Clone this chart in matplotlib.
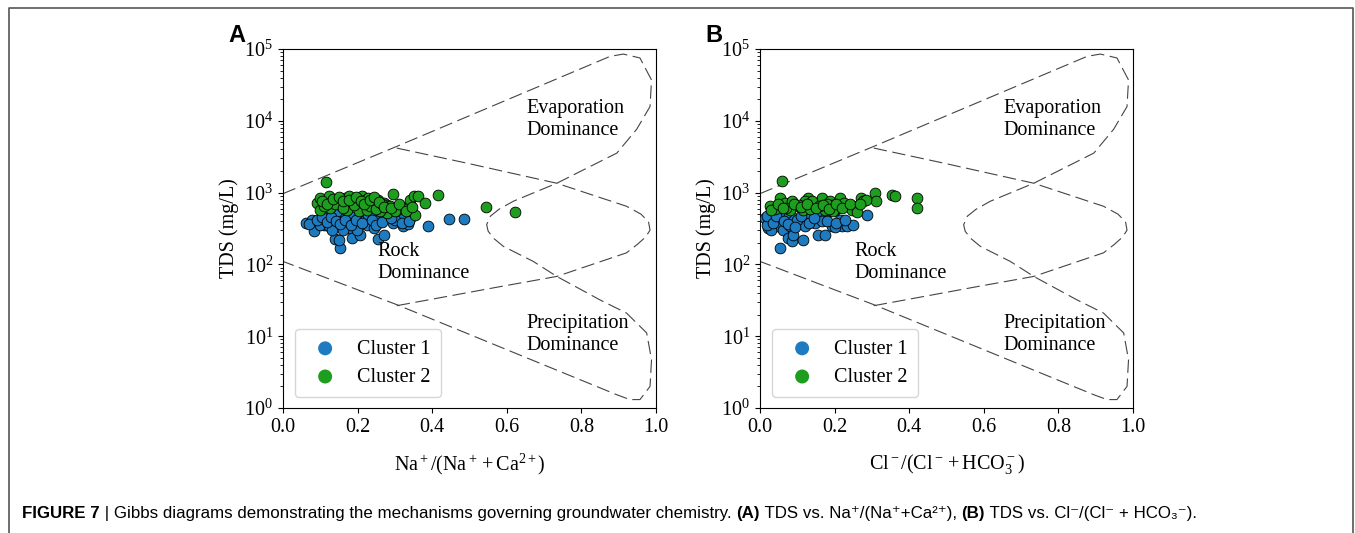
import matplotlib
matplotlib.use("Agg")
import matplotlib.pyplot as plt

plt.rcParams['font.family'] = ['Liberation Serif', 'DejaVu Serif']
plt.rcParams['mathtext.fontset'] = 'custom'
plt.rcParams['mathtext.rm'] = 'Liberation Serif'
plt.rcParams['mathtext.it'] = 'Liberation Serif:italic'
plt.rcParams['mathtext.bf'] = 'Liberation Serif:bold'

# Gibbs boundary curves (x ratio, TDS mg/L)
outer_x = [0.0, 0.305, 0.877, 0.9125, 0.957, 0.988, 0.984, 0.948, 0.895, 0.734,
           0.618, 0.580, 0.556, 0.546, 0.550, 0.565, 0.591, 0.671, 0.734, 0.85,
           0.921, 0.975, 0.988, 0.984, 0.957, 0.93, 0.895, 0.305, 0.0]
outer_y = [967, 4400, 79000, 85000, 75000, 37000, 15800, 7600, 3550, 1350,
           760, 590, 470, 357, 290, 230, 178, 110, 68, 32,
           21, 11.1, 4.7, 2.0, 1.31, 1.31, 1.53, 27.5, 110]
inner_x = [0.305, 0.493, 0.734, 0.921, 0.960, 0.980, 0.984, 0.972, 0.950, 0.921,
           0.734, 0.582, 0.305]
inner_y = [4170, 2570, 1350, 645, 500, 390, 300, 240, 190, 145,
           68, 49, 26.6]

# Panel A: TDS vs Na+/(Na+ + Ca2+)
a_c1_x = [0.062, 0.078, 0.087, 0.082, 0.095, 0.109, 0.122, 0.136, 0.149, 0.145,
          0.158, 0.167, 0.180, 0.176, 0.189, 0.203, 0.207, 0.220, 0.229, 0.234,
          0.243, 0.256, 0.270, 0.283, 0.296, 0.310, 0.323, 0.341, 0.323, 0.388,
          0.445, 0.484, 0.140, 0.154, 0.149, 0.185, 0.207, 0.256, 0.270, 0.100,
          0.122, 0.131, 0.198, 0.171, 0.225, 0.243, 0.115, 0.160, 0.300, 0.335,
          0.070, 0.090, 0.104, 0.117, 0.128, 0.142, 0.153, 0.165, 0.182, 0.195,
          0.212, 0.238, 0.250, 0.265, 0.290, 0.318, 0.338]
a_c1_y = [377, 420, 339, 288, 397, 357, 420, 467, 520, 339,
          397, 443, 467, 321, 377, 357, 443, 420, 493, 377,
          467, 420, 443, 467, 377, 443, 339, 443, 493, 339,
          429, 429, 226, 169, 221, 233, 259, 226, 259, 357,
          339, 304, 304, 377, 357, 321, 480, 300, 420, 360,
          360, 420, 460, 390, 450, 400, 360, 410, 350, 420,
          380, 410, 350, 390, 440, 380, 400]
a_c2_x = [0.115, 0.296, 0.415, 0.545, 0.622, 0.091, 0.100, 0.122, 0.131, 0.145,
          0.154, 0.167, 0.176, 0.185, 0.194, 0.203, 0.212, 0.220, 0.229, 0.238,
          0.247, 0.256, 0.270, 0.279, 0.287, 0.305, 0.314, 0.323, 0.341, 0.350,
          0.363, 0.381, 0.354, 0.203, 0.171, 0.127, 0.100, 0.225, 0.279, 0.261,
          0.110, 0.140, 0.160, 0.190, 0.215, 0.233, 0.250, 0.265, 0.300, 0.330,
          0.105, 0.118, 0.135, 0.150, 0.162, 0.178, 0.196, 0.208, 0.218, 0.232,
          0.243, 0.258, 0.272, 0.290, 0.310, 0.330, 0.345]
a_c2_y = [1390, 955, 925, 623, 542, 716, 841, 886, 755, 797,
          679, 841, 886, 755, 797, 841, 886, 797, 841, 755,
          716, 797, 716, 679, 643, 578, 643, 610, 797, 886,
          886, 716, 493, 548, 578, 610, 578, 578, 520, 548,
          650, 700, 620, 680, 720, 650, 600, 690, 560, 600,
          760, 700, 820, 870, 760, 800, 870, 760, 690, 800,
          870, 740, 640, 610, 700, 560, 640]

# Panel B: TDS vs Cl-/(Cl- + HCO3-)
b_c1_x = [0.013, 0.027, 0.022, 0.036, 0.045, 0.058, 0.062, 0.080, 0.089, 0.107,
          0.121, 0.138, 0.147, 0.156, 0.174, 0.192, 0.214, 0.219, 0.232, 0.250,
          0.286, 0.156, 0.174, 0.076, 0.085, 0.089, 0.116, 0.054, 0.030, 0.070,
          0.100, 0.128, 0.165, 0.200, 0.018, 0.050,
          0.020, 0.035, 0.042, 0.065, 0.075, 0.095, 0.110, 0.132, 0.145, 0.180,
          0.205, 0.228]
b_c1_y = [443, 397, 321, 420, 339, 467, 304, 339, 443, 377,
          339, 420, 377, 493, 443, 339, 420, 339, 339, 357,
          493, 259, 259, 233, 209, 259, 221, 169, 300, 520,
          420, 460, 400, 330, 350, 520,
          470, 380, 470, 400, 360, 330, 470, 380, 440, 400,
          380, 420]
b_c2_x = [0.058, 0.054, 0.027, 0.067, 0.085, 0.098, 0.129, 0.116, 0.147, 0.165,
          0.187, 0.192, 0.214, 0.201, 0.228, 0.250, 0.246, 0.272, 0.277, 0.308,
          0.311, 0.353, 0.362, 0.420, 0.422, 0.080, 0.174, 0.121, 0.040, 0.105,
          0.140, 0.158, 0.180, 0.208, 0.225, 0.260, 0.285, 0.070, 0.135, 0.195,
          0.030, 0.048, 0.062, 0.092, 0.110, 0.125, 0.150, 0.170, 0.185, 0.205,
          0.220, 0.240, 0.268]
b_c2_y = [1435, 841, 643, 716, 755, 643, 841, 578, 716, 841,
          755, 679, 841, 578, 679, 643, 578, 841, 755, 980,
          755, 926, 886, 841, 610, 578, 578, 755, 600, 680,
          760, 650, 700, 620, 720, 530, 800, 620, 600, 560,
          580, 700, 620, 700, 640, 700, 620, 680, 600, 700,
          610, 700, 700]

blue = '#1f7bbf'
green = '#1e9e1e'
fs = 14.5

fig = plt.figure(figsize=(13.55, 5.33), dpi=100)

# outer frame (top, left, right)
fig.add_artist(plt.Line2D([9/1355, 9/1355, 1353/1355, 1353/1355],
                          [0, 1 - 8/533, 1 - 8/533, 0],
                          transform=fig.transFigure, color='#555555', lw=1.2))

panels = [
    (283, a_c1_x, a_c1_y, a_c2_x, a_c2_y,
     r'$\mathrm{Na^+/(Na^+ + Ca^{2+})}$', 'A'),
    (760, b_c1_x, b_c1_y, b_c2_x, b_c2_y,
     r'$\mathrm{Cl^-/(Cl^- + HCO_3^-)}$', 'B'),
]

for left_px, c1x, c1y, c2x, c2y, xlab, letter in panels:
    ax = fig.add_axes([left_px / 1355, 1 - 408 / 533, 373 / 1355, 359 / 533])
    ax.set_yscale('log')
    ax.set_xlim(0, 1)
    ax.set_ylim(1, 1e5)

    ax.plot(outer_x, outer_y, color='#444444', lw=0.8, ls=(0, (12, 5)))
    ax.plot(inner_x, inner_y, color='#444444', lw=0.8, ls=(0, (12, 5)))

    ax.scatter(c1x, c1y, s=60, c=blue, edgecolors='black', linewidths=0.6,
               label='Cluster 1', zorder=3)
    ax.scatter(c2x, c2y, s=60, c=green, edgecolors='black', linewidths=0.6,
               label='Cluster 2', zorder=3)

    ax.text(0.652, 10500, 'Evaporation\nDominance', fontsize=fs, va='center')
    ax.text(0.253, 105, 'Rock\nDominance', fontsize=fs, va='center')
    ax.text(0.652, 10.5, 'Precipitation\nDominance', fontsize=fs, va='center')

    ax.set_xticks([0.0, 0.2, 0.4, 0.6, 0.8, 1.0])
    ax.set_xticklabels(['0.0', '0.2', '0.4', '0.6', '0.8', '1.0'])
    ax.tick_params(axis='both', labelsize=fs)
    ax.set_ylabel('TDS (mg/L)', fontsize=fs, labelpad=4)
    ax.set_xlabel(xlab, fontsize=fs, labelpad=11)

    leg = ax.legend(loc='lower left', fontsize=fs, handletextpad=0.6,
                    borderpad=0.5, labelspacing=0.45, markerscale=1.3,
                    bbox_to_anchor=(0.005, 0.003))
    for h in leg.legend_handles:
        h.set_edgecolor('none')

    fig.text((left_px - 55) / 1355, 1 - 35 / 533, letter, fontsize=17,
             fontweight='bold', family='Liberation Sans', va='center')

# caption, drawn piece by piece
cap_font = ['Liberation Sans', 'DejaVu Sans']
pieces = [
    ('FIGURE 7', 'bold'),
    (' | Gibbs diagrams demonstrating the mechanisms governing groundwater chemistry. ', 'normal'),
    ('(A)', 'bold'),
    (' TDS vs. Na\u207a/(Na\u207a+Ca\u00b2\u207a), ', 'normal'),
    ('(B)', 'bold'),
    (' TDS vs. Cl\u207b/(Cl\u207b + HCO\u2083\u207b).', 'normal'),
]
last = fig.text(22 / 1355, 1 - 521 / 533, pieces[0][0], fontsize=12.2,
                fontweight=pieces[0][1], family=cap_font, va='bottom')
for txt, wt in pieces[1:]:
    last = fig.axes[0].annotate(txt, xy=(1, 0), xycoords=last, va='bottom',
                                fontsize=12.2, fontweight=wt, family=cap_font,
                                annotation_clip=False)

fig.savefig('out.png', dpi=100)
